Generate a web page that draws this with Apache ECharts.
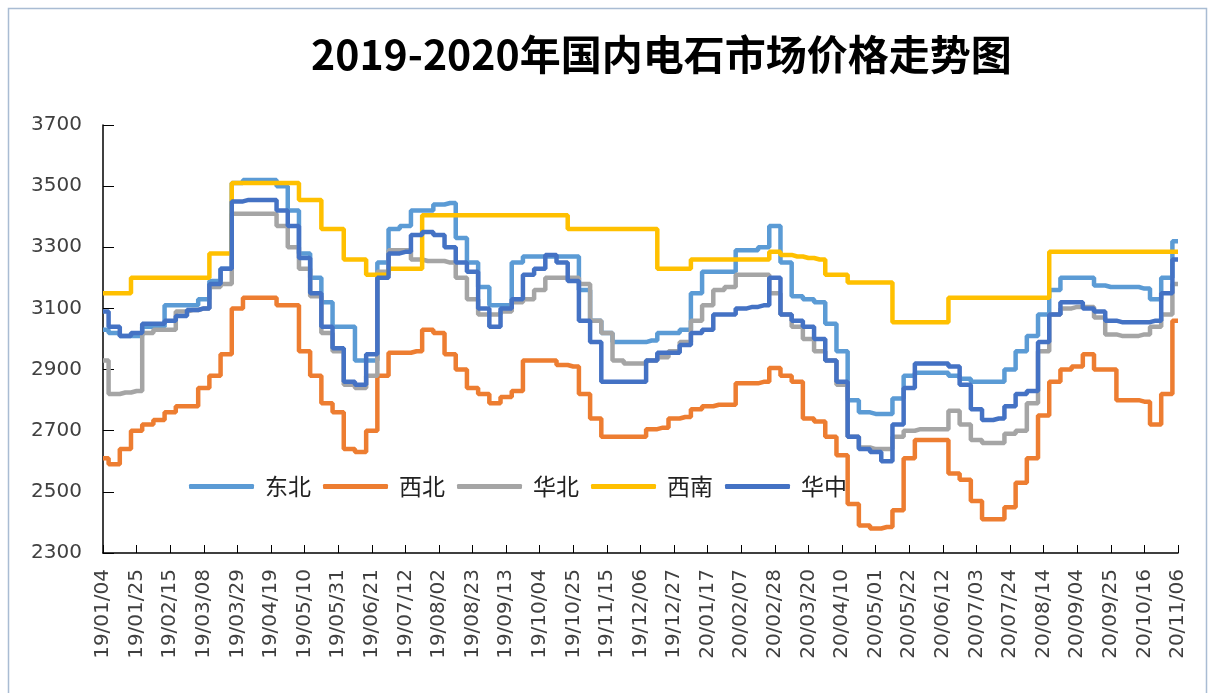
<!DOCTYPE html>
<html>
<head>
<meta charset="utf-8">
<title>2019-2020年国内电石市场价格走势图</title>
<script src="https://cdn.jsdelivr.net/npm/echarts@6/dist/echarts.min.js"></script>
<style>
  html, body { margin: 0; padding: 0; background: #fff; }
  #myChart { width: 1210px; height: 693px; }
</style>
</head>
<body>
<div id="myChart"></div>
<script>
// 周度日期：2019/01/04 起每周一个点，至 2020/11/06
const startDate = new Date(2019, 0, 4)
const weekCount = 97
const dateList = []
for (let i = 0; i < weekCount; i++) {
  const d = new Date(startDate.getFullYear(), startDate.getMonth(), startDate.getDate() + i * 7)
  const yy = String(d.getFullYear()).slice(2)
  const mm = String(d.getMonth() + 1).padStart(2, '0')
  const dd = String(d.getDate()).padStart(2, '0')
  dateList.push(yy + '/' + mm + '/' + dd)
}

const legendNames = ['东北', '西北', '华北', '西南', '华中']

// 各地区电石价格（元/吨）
const dongbei = [
  3030, 3020, 3010, 3010, 3040, 3040, 3110, 3110, 3110, 3130,
  3190, 3230, 3510, 3520, 3520, 3520, 3500, 3420, 3280, 3200,
  3120, 3040, 3040, 2930, 2930, 3250, 3360, 3370, 3420, 3420,
  3440, 3445, 3330, 3250, 3170, 3110, 3110, 3250, 3270, 3270,
  3270, 3270, 3270, 3160, 3060, 3020, 2990, 2990, 2990, 2995,
  3020, 3020, 3030, 3150, 3220, 3220, 3220, 3290, 3290, 3300,
  3370, 3250, 3140, 3130, 3120, 3050, 2960, 2800, 2760, 2755,
  2755, 2805, 2880, 2890, 2890, 2890, 2880, 2870, 2860, 2860,
  2860, 2900, 2960, 3010, 3080, 3160, 3200, 3200, 3200, 3175,
  3170, 3170, 3170, 3165, 3130, 3200, 3320
]
const xibei = [
  2610, 2590, 2640, 2700, 2720, 2735, 2760, 2780, 2780, 2840,
  2880, 2950, 3100, 3135, 3135, 3135, 3110, 3110, 2960, 2880,
  2790, 2760, 2640, 2630, 2700, 2880, 2955, 2955, 2960, 3030,
  3020, 2950, 2900, 2840, 2820, 2790, 2810, 2830, 2930, 2930,
  2930, 2915, 2910, 2820, 2740, 2680, 2680, 2680, 2680, 2705,
  2710, 2740, 2745, 2770, 2780, 2785, 2785, 2855, 2855, 2860,
  2905, 2880, 2860, 2740, 2730, 2680, 2620, 2460, 2390, 2380,
  2385, 2440, 2610, 2670, 2670, 2670, 2560, 2540, 2470, 2410,
  2410, 2450, 2530, 2610, 2750, 2860, 2900, 2910, 2950, 2900,
  2900, 2800, 2800, 2795, 2720, 2820, 3060
]
const huabei = [
  2930, 2820, 2825, 2830, 3020, 3030, 3030, 3090, 3095, 3100,
  3170, 3180, 3410, 3410, 3410, 3410, 3370, 3300, 3230, 3140,
  3020, 2960, 2850, 2840, 2880, 3220, 3290, 3290, 3260, 3255,
  3255, 3250, 3200, 3130, 3080, 3080, 3090, 3120, 3130, 3160,
  3200, 3200, 3200, 3180, 3060, 3020, 2930, 2920, 2920, 2930,
  2940, 2960, 2990, 3060, 3110, 3160, 3170, 3210, 3210, 3210,
  3150, 3080, 3040, 3000, 2960, 2930, 2850, 2680, 2645, 2640,
  2640, 2680, 2700, 2705, 2705, 2705, 2765, 2720, 2670, 2660,
  2660, 2690, 2700, 2790, 2960, 3080, 3100, 3105, 3105, 3070,
  3015, 3010, 3010, 3015, 3040, 3080, 3180
]
const xinan = [
  3150, 3150, 3150, 3200, 3200, 3200, 3200, 3200, 3200, 3200,
  3280, 3280, 3510, 3510, 3510, 3510, 3510, 3510, 3455, 3455,
  3360, 3360, 3260, 3260, 3210, 3210, 3230, 3230, 3230, 3405,
  3405, 3405, 3405, 3405, 3405, 3405, 3405, 3405, 3405, 3405,
  3405, 3405, 3360, 3360, 3360, 3360, 3360, 3360, 3360, 3360,
  3230, 3230, 3230, 3260, 3260, 3260, 3260, 3260, 3260, 3260,
  3285, 3275, 3270, 3265, 3260, 3210, 3210, 3185, 3185, 3185,
  3185, 3055, 3055, 3055, 3055, 3055, 3135, 3135, 3135, 3135,
  3135, 3135, 3135, 3135, 3135, 3285, 3285, 3285, 3285, 3285,
  3285, 3285, 3285, 3285, 3285, 3285, 3285
]
const huazhong = [
  3090, 3040, 3010, 3020, 3050, 3050, 3060, 3075, 3095, 3100,
  3180, 3230, 3450, 3455, 3455, 3455, 3420, 3370, 3265, 3150,
  3040, 2970, 2860, 2850, 2950, 3200, 3280, 3285, 3340, 3350,
  3340, 3300, 3250, 3220, 3100, 3040, 3100, 3130, 3210, 3230,
  3275, 3250, 3190, 3060, 2990, 2860, 2860, 2860, 2860, 2930,
  2955, 2955, 2980, 3020, 3030, 3080, 3080, 3100, 3105, 3110,
  3200, 3080, 3060, 3040, 3000, 2930, 2860, 2680, 2640, 2630,
  2600, 2720, 2840, 2920, 2920, 2920, 2910, 2850, 2770, 2735,
  2740, 2780, 2820, 2830, 2990, 3080, 3120, 3120, 3100, 3090,
  3060, 3055, 3055, 3055, 3060, 3150, 3260
]
const seriesData = [dongbei, xibei, huabei, xinan, huazhong]
const colorList = ['#5B9BD5', '#ED7D31', '#A5A5A5', '#FFC000', '#4472C4']

// 初始化echarts实例
let myChart = echarts.init(document.getElementById('myChart'), null, { renderer: 'canvas' })

myChart.setOption({
  animation: false,
  backgroundColor: '#ffffff',
  color: colorList,
  title: {
    text: '2019-2020年国内电石市场价格走势图',
    left: 311,
    top: 34,
    padding: 0,
    textStyle: {
      fontFamily: 'Noto Sans CJK SC',
      fontWeight: 'bold',
      fontSize: 41,
      color: '#000'
    }
  },
  graphic: [
    {
      // 外框
      type: 'rect',
      silent: true,
      shape: { x: 8.5, y: 8.5, width: 1198, height: 1000 },
      style: { fill: 'none', stroke: '#A9BCD3', lineWidth: 1.5 }
    }
  ],
  legend: {
    data: legendNames,
    icon: 'roundRect',
    left: 189,
    top: 475,
    padding: 0,
    itemWidth: 65,
    itemHeight: 5,
    itemGap: 12,
    textStyle: {
      fontFamily: 'Noto Sans CJK SC',
      fontSize: 23,
      color: '#222',
      padding: [0, 0, 0, 6]
    }
  },
  grid: {
    left: 103,
    right: 32,
    top: 125,
    bottom: 140,
    containLabel: false
  },
  xAxis: {
    type: 'category',
    data: dateList,
    boundaryGap: false,
    axisLine: { lineStyle: { color: '#000', width: 1.5 } },
    axisTick: {
      inside: true,
      length: 8,
      interval: 2,
      lineStyle: { color: '#000' }
    },
    axisLabel: {
      interval: 2,
      rotate: 90,
      margin: 16,
      fontFamily: 'DejaVu Sans',
      fontSize: 20,
      color: '#404040'
    },
    splitLine: { show: false }
  },
  yAxis: {
    type: 'value',
    min: 2300,
    max: 3700,
    interval: 200,
    axisLine: { show: true, lineStyle: { color: '#000', width: 1.5 } },
    axisTick: {
      show: true,
      inside: true,
      length: 11,
      lineStyle: { color: '#000' }
    },
    axisLabel: {
      margin: 21,
      fontFamily: 'DejaVu Sans',
      fontSize: 20,
      color: '#404040',
      formatter: function (value) {
        return String(value)
      }
    },
    splitLine: { show: false }
  },
  series: legendNames.map((name, i) => ({
    name: name,
    type: 'line',
    step: 'middle',
    symbol: 'none',
    data: seriesData[i],
    lineStyle: { width: 4.5, color: colorList[i] },
    itemStyle: { color: colorList[i] }
  }))
})
</script>
</body>
</html>
